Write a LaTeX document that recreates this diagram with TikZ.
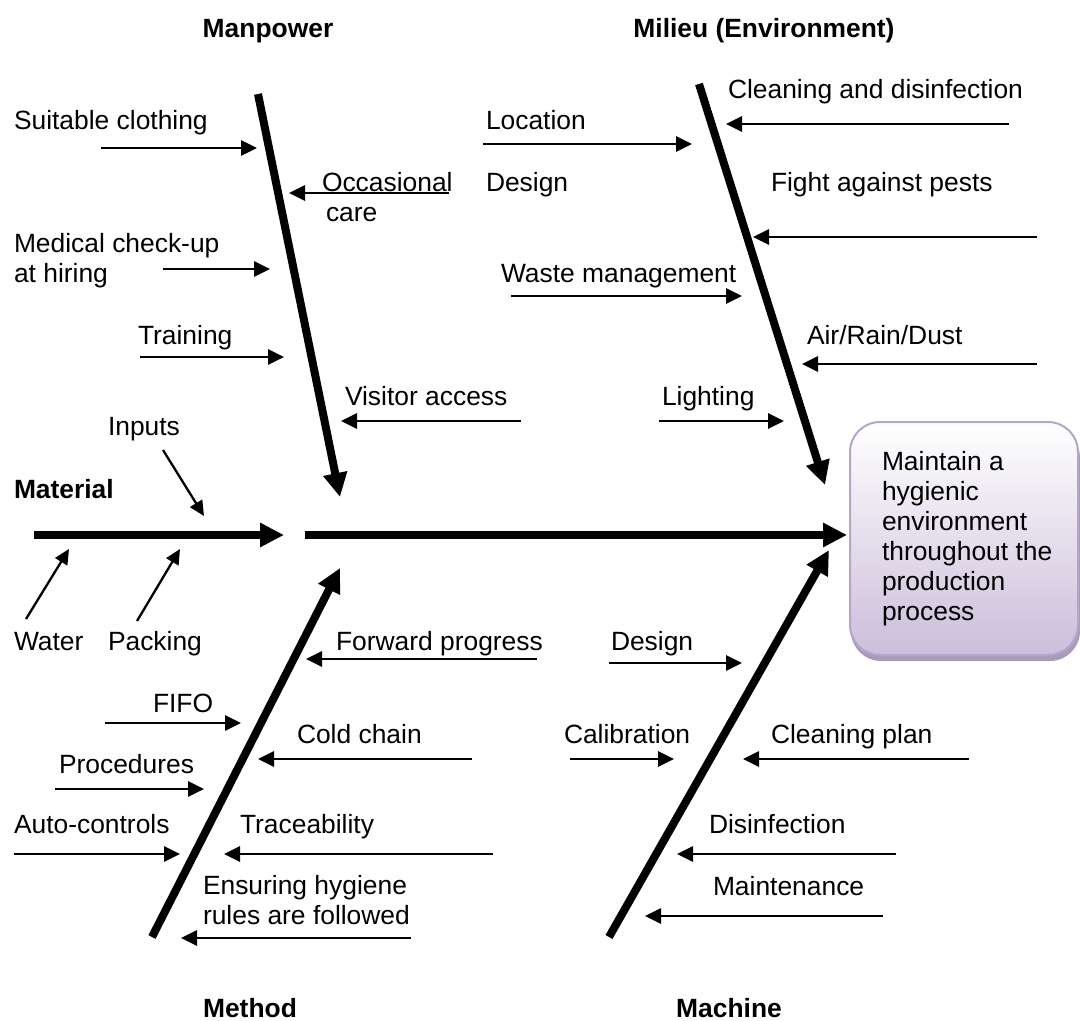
\documentclass[tikz,border=0pt]{standalone}
\usepackage{fontspec}
\setmainfont{Liberation Sans}
\usetikzlibrary{arrows.meta}
\definecolor{boxedge}{HTML}{B5A5CB}
\definecolor{boxbottom}{HTML}{CBBEDB}
\definecolor{boxshadow}{HTML}{A89CB6}
\begin{document}
\begin{tikzpicture}[x=1pt,y=-1pt,
  every node/.style={inner sep=0pt,outer sep=0pt,font=\fontsize{26.4}{30}\selectfont},
  lbl/.style={anchor=base west,align=left},
  title/.style={anchor=base,font=\fontsize{26.4}{30}\selectfont\bfseries},
  bone/.style={line width=8pt,-{Triangle[length=24pt,width=23pt]}},
  twig/.style={line width=2.7pt,-{Triangle[length=16pt,width=15pt]}},
  feed/.style={line width=2.3pt,-{Triangle[length=15pt,width=14pt]}}]
\useasboundingbox (0,0) rectangle (1080,1021);

% ---------- titles ----------
\node[title] (tman) at (268,37) {Manpower};
\node[title] (tmil) at (764,37) {Milieu (Environment)};
\node[title,anchor=base west] (tmat) at (14,498) {Material};
\node[title] (tmet) at (250,1017) {Method};
\node[title] (tmac) at (729,1017) {Machine};

% ---------- spine ----------
\coordinate (s1a) at (34,535);  \coordinate (s1b) at (284,535);
\coordinate (s2a) at (305,535); \coordinate (s2b) at (847,535);
\draw[bone] (s1a) -- (s1b);
\draw[bone] (s2a) -- (s2b);

% ---------- main bones ----------
\coordinate (manA) at (258,94);  \coordinate (manB) at (340,497);
\coordinate (milA) at (699,84);  \coordinate (milB) at (825,485);
\coordinate (metA) at (152,937); \coordinate (metB) at (340,568);
\coordinate (macA) at (609,937); \coordinate (macB) at (829,550);
\draw[bone] (manA) -- (manB);
\draw[bone] (milA) -- (milB);
\draw[bone] (metA) -- (metB);
\draw[bone] (macA) -- (macB);

% ---------- effect box (multi-line nodes are placed by their last baseline) ----------
\fill[boxshadow,rounded corners=30pt] (851,428) rectangle (1080,661);
\shadedraw[draw=boxedge,line width=2pt,top color=white,bottom color=boxbottom,
  rounded corners=30pt] (850,422) rectangle (1078,655);
\node[lbl] (goal) at (882,620) {Maintain a\\hygienic\\environment\\throughout the\\production\\process};

% ---------- Manpower ----------
\node[lbl] (l1) at (14,129) {Suitable clothing};
\coordinate (a1) at (101,148); \coordinate (b1) at (257,148);
\draw[twig] (a1) -- (b1);
\node[lbl] (l2) at (322,221) {Occasional\\\hspace*{4pt}care};
\coordinate (a2) at (449,193); \coordinate (b2) at (289,193);
\draw[twig] (a2) -- (b2);
\node[lbl] (l3) at (14,282) {Medical check-up\\at hiring};
\coordinate (a3) at (163,269); \coordinate (b3) at (270,269);
\draw[twig] (a3) -- (b3);
\node[lbl] (l4) at (138,344) {Training};
\coordinate (a4) at (140,357); \coordinate (b4) at (284,357);
\draw[twig] (a4) -- (b4);
\node[lbl] (l5) at (345,405) {Visitor access};
\coordinate (a5) at (521,421); \coordinate (b5) at (341,421);
\draw[twig] (a5) -- (b5);

% ---------- Milieu ----------
\node[lbl] (l6) at (486,129) {Location};
\coordinate (a6) at (483,144); \coordinate (b6) at (692,144);
\draw[twig] (a6) -- (b6);
\node[lbl] (l7) at (486,191) {Design};
\node[lbl] (l8) at (501,282) {Waste management};
\coordinate (a8) at (511,296); \coordinate (b8) at (742,296);
\draw[twig] (a8) -- (b8);
\node[lbl] (l9) at (662,405) {Lighting};
\coordinate (a9) at (659,421); \coordinate (b9) at (784,421);
\draw[twig] (a9) -- (b9);
\node[lbl] (l10) at (728,98) {Cleaning and disinfection};
\coordinate (a10) at (1009,124); \coordinate (b10) at (726,124);
\draw[twig] (a10) -- (b10);
\node[lbl] (l11) at (771,191) {Fight against pests};
\coordinate (a11) at (1037,237); \coordinate (b11) at (753,237);
\draw[twig] (a11) -- (b11);
\node[lbl] (l12) at (807,344) {Air/Rain/Dust};
\coordinate (a12) at (1037,364); \coordinate (b12) at (802,364);
\draw[twig] (a12) -- (b12);

% ---------- Material ----------
\node[lbl] (l13) at (108,435) {Inputs};
\coordinate (a13) at (163,450); \coordinate (b13) at (204,516);
\draw[feed] (a13) -- (b13);
\node[lbl] (l14) at (14,650) {Water};
\coordinate (a14) at (26,619); \coordinate (b14) at (69,549);
\draw[feed] (a14) -- (b14);
\node[lbl] (l15) at (108,650) {Packing};
\coordinate (a15) at (137,621); \coordinate (b15) at (180,549);
\draw[feed] (a15) -- (b15);

% ---------- Method ----------
\node[lbl] (l16) at (336,650) {Forward progress};
\coordinate (a16) at (537,659); \coordinate (b16) at (306,659);
\draw[twig] (a16) -- (b16);
\node[lbl] (l17) at (153,712) {FIFO};
\coordinate (a17) at (105,723); \coordinate (b17) at (241,723);
\draw[twig] (a17) -- (b17);
\node[lbl] (l18) at (297,743) {Cold chain};
\coordinate (a18) at (472,759); \coordinate (b18) at (258,759);
\draw[twig] (a18) -- (b18);
\node[lbl] (l19) at (59,773) {Procedures};
\coordinate (a19) at (55,789); \coordinate (b19) at (204,789);
\draw[twig] (a19) -- (b19);
\node[lbl] (l20) at (14,833) {Auto-controls};
\coordinate (a20) at (14,854); \coordinate (b20) at (180,854);
\draw[twig] (a20) -- (b20);
\node[lbl] (l21) at (240,833) {Traceability};
\coordinate (a21) at (493,854); \coordinate (b21) at (224,854);
\draw[twig] (a21) -- (b21);
\node[lbl] (l22) at (203,924) {Ensuring hygiene\\rules are followed};
\coordinate (a22) at (411,938); \coordinate (b22) at (181,938);
\draw[twig] (a22) -- (b22);

% ---------- Machine ----------
\node[lbl] (l23) at (611,650) {Design};
\coordinate (a23) at (609,663); \coordinate (b23) at (742,663);
\draw[twig] (a23) -- (b23);
\node[lbl] (l24) at (564,743) {Calibration};
\coordinate (a24) at (570,759); \coordinate (b24) at (674,759);
\draw[twig] (a24) -- (b24);
\node[lbl] (l25) at (771,743) {Cleaning plan};
\coordinate (a25) at (969,759); \coordinate (b25) at (743,759);
\draw[twig] (a25) -- (b25);
\node[lbl] (l26) at (709,833) {Disinfection};
\coordinate (a26) at (896,854); \coordinate (b26) at (677,854);
\draw[twig] (a26) -- (b26);
\node[lbl] (l27) at (713,895) {Maintenance};
\coordinate (a27) at (883,916); \coordinate (b27) at (645,916);
\draw[twig] (a27) -- (b27);
\end{tikzpicture}
\end{document}
